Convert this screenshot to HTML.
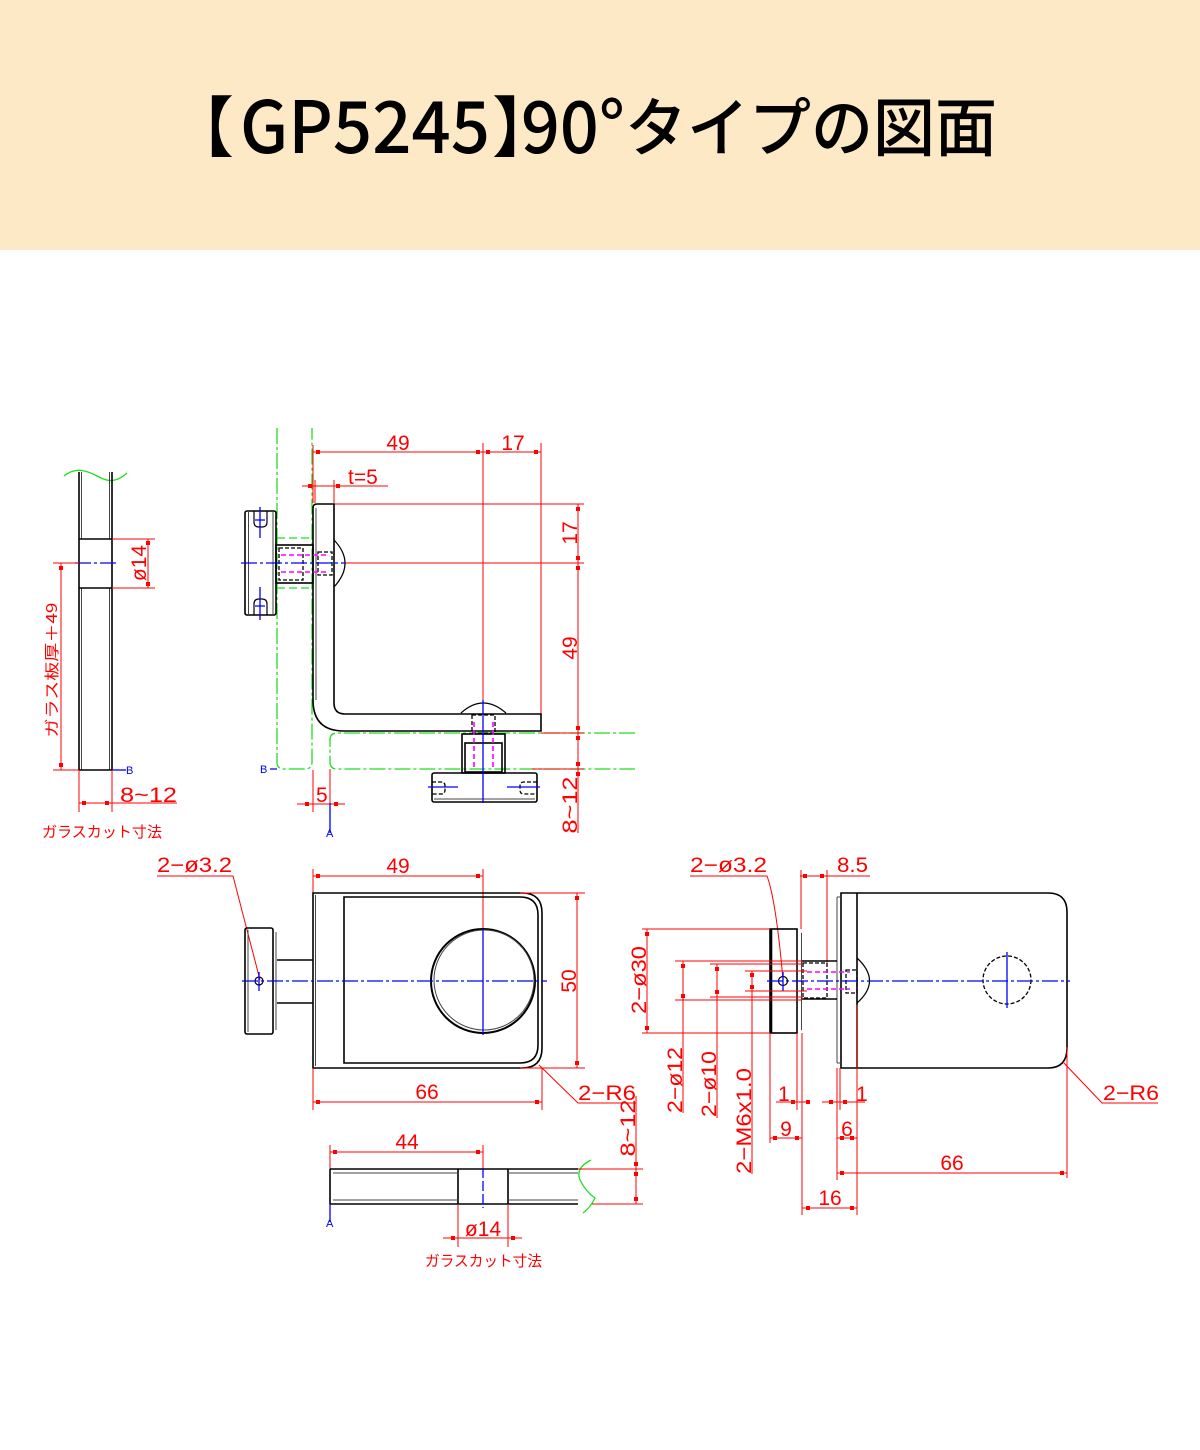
<!DOCTYPE html>
<html><head><meta charset="utf-8"><style>
html,body{margin:0;padding:0;background:#fff}
svg{display:block}
.k{stroke:#000;stroke-width:1.6;fill:none}
.k2{stroke:#444;stroke-width:1;fill:none}
.kd{stroke:#000;stroke-width:1.3;fill:none;stroke-dasharray:4 2}
.r{stroke:#f00;stroke-width:1;fill:none}
.b{stroke:#00f;stroke-width:1.3;fill:none;stroke-dasharray:16 3 3 3}
.bs{stroke:#00f;stroke-width:1.3;fill:none}
.g{stroke:#2d2;stroke-width:1.3;fill:none;stroke-dasharray:16 3 3 3}
.m{stroke:#f0f;stroke-width:1.6;fill:none;stroke-dasharray:5 3}
.t{fill:#f00;font-family:"Liberation Sans","Noto Sans CJK JP",sans-serif;font-size:21px}
.tj{fill:#f00;font-family:"Noto Sans CJK JP","Liberation Sans",sans-serif;font-size:15px}
.tb{fill:#00f;font-family:"Liberation Sans",sans-serif;font-size:11px}
.h{font-family:"Noto Sans CJK JP","Liberation Sans",sans-serif;font-weight:500;fill:#000}
</style></head><body>
<svg width="1200" height="1450" viewBox="0 0 1200 1450" xmlns="http://www.w3.org/2000/svg">
<defs><rect id="q" x="-2" y="-2" width="4" height="4" fill="#f00"/></defs>
<rect x="0" y="0" width="1200" height="250" fill="#FEE9C6"/>
<text class="h" x="234" y="151" text-anchor="end" font-size="66">【</text>
<text class="h" x="240" y="153" font-size="72" textLength="250" lengthAdjust="spacingAndGlyphs">GP5245</text>
<text class="h" x="492" y="151" font-size="66">】</text>
<text class="h" x="521" y="153" font-size="72" textLength="104" lengthAdjust="spacingAndGlyphs">90°</text>
<text class="h" x="625" y="151" font-size="64" textLength="372" lengthAdjust="spacingAndGlyphs">タイプの図面</text>

<!-- ===== Left glass section ===== -->
<path class="g" style="stroke-dasharray:none" d="M64,476 C76,466 88,471 99,477 C110,483 118,481 127,473"/>
<path class="k" d="M79,472 V770 M112,472 V770"/>
<path class="k2" d="M81.5,472 V539 M81.5,588 V770 M109.5,472 V539 M109.5,588 V770"/>
<path class="k" d="M79,539 H112 M79,588 H112 M79,770 H112"/>
<path class="b" d="M75,563 H117"/>
<path class="r" d="M112,539 H155 M112,588 H155 M148,539 V588"/>
<use href="#q" x="148" y="543"/><use href="#q" x="148" y="584"/>
<text class="t" transform="translate(146,563) rotate(-90)" text-anchor="middle" font-size="20">ø14</text>
<path class="r" d="M53,563 H79 M53,770 H79 M61,563 V770"/>
<use href="#q" x="61" y="568"/><use href="#q" x="61" y="765"/>
<text class="tj" transform="translate(57,670) rotate(-90)" text-anchor="middle" font-size="17" textLength="135" lengthAdjust="spacingAndGlyphs">ガラス板厚＋49</text>
<path class="bs" d="M112,770 H126"/>
<text class="tb" x="126" y="774">B</text>
<path class="r" d="M79,770 V812 M112,770 V812 M79,803 H177"/>
<use href="#q" x="84" y="803"/><use href="#q" x="107" y="803"/>
<text class="t" x="120" y="802" textLength="57" lengthAdjust="spacingAndGlyphs">8~12</text>
<text class="tj" x="42" y="837" textLength="120" lengthAdjust="spacingAndGlyphs">ガラスカット寸法</text>

<!-- ===== Top side view ===== -->
<path class="g" d="M277,428 V762 Q277,769 284,769 H305 Q312,769 312,762 V428"/>
<path class="g" style="stroke-dasharray:8 4" d="M277,538 H312 M277,588 H312"/>
<path class="g" d="M635,733 H337 Q330,733 330,740 V762 Q330,769 337,769 H635"/>
<path class="r" d="M313,445 V503 M313,452 H541 M483,443 V702 M541,443 V714"/>
<use href="#q" x="318" y="452"/><use href="#q" x="478" y="452"/><use href="#q" x="488" y="452"/><use href="#q" x="536" y="452"/>
<text class="t" x="398" y="450" text-anchor="middle">49</text>
<text class="t" x="513" y="450" text-anchor="middle">17</text>
<path class="r" d="M302,486 H388 M315,480 V503 M334,480 V503"/>
<use href="#q" x="310" y="486"/><use href="#q" x="338" y="486"/>
<text class="t" x="348" y="484">t=5</text>
<path class="r" d="M334,504 H584 M345,563 H584 M578,504 V833 M541,733 H584 M532,769 H584"/>
<use href="#q" x="578" y="509"/><use href="#q" x="578" y="558"/><use href="#q" x="578" y="568"/><use href="#q" x="578" y="728"/><use href="#q" x="578" y="738"/><use href="#q" x="578" y="764"/><use href="#q" x="578" y="774"/>
<text class="t" transform="translate(577,533) rotate(-90)" text-anchor="middle">17</text>
<text class="t" transform="translate(577,648) rotate(-90)" text-anchor="middle">49</text>
<text class="t" transform="translate(577,805) rotate(-90)" text-anchor="middle" textLength="57" lengthAdjust="spacingAndGlyphs">8~12</text>
<path class="k" d="M334,504 H317 Q313,504 313,508 V700 Q313,731 344,731 H541 V714 H345 Q334,714 334,703 Z"/>
<path class="k2" d="M316,508 V700"/>
<rect class="k" x="245" y="511" width="31" height="104" rx="2"/>
<path class="k2" d="M248.5,512 V614 M273,512 V614"/>
<path class="k" style="stroke-width:1.2" d="M254,511 V522 Q254,527 259,527 H262 Q267,527 267,522 V511 M254,615 V604 Q254,599 259,599 H262 Q267,599 267,604 V615"/>
<path class="bs" d="M260,507 V538 M260,587 V620 M255,520 H265 M255,606 H265"/>
<rect class="k" x="276" y="545" width="37" height="38"/>
<rect class="kd" x="279" y="548" width="24" height="32"/>
<rect class="kd" x="318" y="552" width="14" height="23"/>
<path class="m" d="M281,555 H326 M281,572 H326"/>
<path class="k" style="stroke-width:1.2" d="M334,540 Q356,563 334,587"/>
<path class="b" d="M241,563 H345"/>
<path class="k" style="stroke-width:1.2" d="M461,713 Q483,693 506,713"/>
<rect class="kd" x="472" y="715" width="23" height="18"/>
<rect class="k" x="462" y="734" width="43" height="39"/>
<rect class="k" x="465" y="743" width="37" height="29"/>
<path class="m" d="M474,722 V768 M493,722 V768"/>
<rect class="k" x="432" y="773" width="105" height="29" rx="2"/>
<path class="k2" d="M434,799 H535"/>
<path class="kd" d="M432,782 H441 Q445,782 445,786 V790 Q445,794 441,794 H432 M537,782 H524 Q520,782 520,786 V790 Q520,794 524,794 H537"/>
<path class="bs" d="M483,700 V803 M428,787 H458 M507,787 H540"/>
<path class="r" d="M313,770 V812 M330,769 V803 M297,804 H345"/>
<use href="#q" x="307" y="804"/><use href="#q" x="336" y="804"/>
<text class="t" x="316" y="802">5</text>
<path class="bs" d="M330,803 V833 M270,769 H277"/>
<text class="tb" x="326" y="837">A</text>
<text class="tb" x="260" y="773">B</text>

<!-- ===== Bottom-left view ===== -->
<text class="t" x="157" y="872" textLength="75" lengthAdjust="spacingAndGlyphs">2−ø3.2</text>
<path class="r" d="M157,876 H233 L260,980"/>
<path class="r" d="M313,869 V893 M483,869 V930 M313,876 H483"/>
<use href="#q" x="318" y="876"/><use href="#q" x="478" y="876"/>
<text class="t" x="398" y="873" text-anchor="middle">49</text>
<path class="k" d="M313,893 H522 Q542,893 542,913 V1048 Q542,1068 522,1068 H313 Z"/>
<path class="k2" d="M315.5,895 V1066"/>
<path class="k" d="M344,897 H520 Q538,897 538,915 V1045 Q538,1063 520,1063 H344 Z"/>
<circle class="k" cx="483" cy="981" r="52" style="stroke-width:2"/>
<circle class="k2" cx="484" cy="980" r="50"/>
<rect class="k" x="245" y="928" width="28" height="106" rx="2"/>
<path class="k2" d="M248,930 V1032 M276,932 V1030"/>
<path class="k" d="M277,960 H313 M277,1003 H313"/>
<circle class="k" cx="259" cy="981" r="4" style="stroke-width:1.2"/>
<path class="bs" d="M259,972 V991"/>
<path class="b" d="M242,981 H547"/>
<path class="bs" d="M483,930 V1035"/>
<path class="r" d="M313,1068 V1110 M542,1068 V1110 M313,1102 H542"/>
<use href="#q" x="318" y="1102"/><use href="#q" x="537" y="1102"/>
<text class="t" x="427" y="1099" text-anchor="middle">66</text>
<path class="r" d="M520,893 H585 M520,1068 H585 M577,893 V1068"/>
<use href="#q" x="577" y="898"/><use href="#q" x="577" y="1063"/>
<text class="t" transform="translate(576,981) rotate(-90)" text-anchor="middle">50</text>
<path class="r" d="M539,1065 L578,1103 H636"/>
<text class="t" x="578" y="1100" textLength="58" lengthAdjust="spacingAndGlyphs">2−R6</text>

<!-- ===== Bottom glass ===== -->
<path class="r" d="M330,1145 V1169 M483,1145 V1168 M330,1152 H483"/>
<use href="#q" x="335" y="1152"/><use href="#q" x="478" y="1152"/>
<text class="t" x="407" y="1149" text-anchor="middle">44</text>
<path class="k" d="M330,1169 H578 M330,1204 H578 M330,1169 V1204 M458,1169 V1204 M508,1169 V1204"/>
<path class="k2" d="M333,1173 H458 M508,1173 H578 M333,1200 H458 M508,1200 H578"/>
<path class="bs" style="stroke-dasharray:10 3" d="M483,1168 V1208"/>
<path class="bs" d="M330,1204 V1222"/>
<text class="tb" x="326" y="1227">A</text>
<path class="g" style="stroke-dasharray:none" d="M591,1160 Q575,1168 580,1180 Q586,1192 595,1198 Q590,1208 583,1213"/>
<path class="r" d="M578,1169 H643 M592,1204 H643 M636,1096 V1204"/>
<use href="#q" x="636" y="1164"/><use href="#q" x="636" y="1174"/><use href="#q" x="636" y="1199"/>
<text class="t" transform="translate(635,1128) rotate(-90)" text-anchor="middle" textLength="57" lengthAdjust="spacingAndGlyphs">8~12</text>
<path class="r" d="M458,1204 V1247 M508,1204 V1247 M443,1238 H522"/>
<use href="#q" x="453" y="1238"/><use href="#q" x="513" y="1238"/>
<text class="t" x="483" y="1236" text-anchor="middle">ø14</text>
<text class="tj" x="425" y="1266" textLength="117" lengthAdjust="spacingAndGlyphs">ガラスカット寸法</text>

<!-- ===== Right view ===== -->
<text class="t" x="690" y="872" textLength="77" lengthAdjust="spacingAndGlyphs">2−ø3.2</text>
<path class="r" d="M690,876 H767 Q776,900 783,980"/>
<text class="t" x="837" y="872" textLength="31" lengthAdjust="spacingAndGlyphs">8.5</text>
<path class="r" d="M800,876 H870 M801,870 V929 M827,870 V966"/>
<use href="#q" x="805" y="876"/><use href="#q" x="822" y="876"/>
<path class="k" d="M841,893 H1048 Q1067,893 1067,912 V1048 Q1067,1068 1048,1068 H841 Z"/>
<path class="k" d="M857,893 V1068"/>
<path class="k2" d="M837,897 V1063 M837,897 H841 M837,1063 H841"/>
<circle class="kd" cx="1007" cy="980" r="24"/>
<path class="bs" d="M1007,952 V1008"/>
<rect class="k" x="770" y="929" width="27" height="104"/>
<path class="k" style="stroke-width:2.6" d="M771,929 V1033"/>
<path class="k2" d="M801.5,933 V1030"/>
<path class="k" d="M802,961 H837 M802,999 H837"/>
<rect class="kd" x="803" y="963" width="24" height="35"/>
<rect class="kd" x="846" y="970" width="11" height="23"/>
<path class="m" d="M807,972 H850 M807,989 H850"/>
<path class="k" style="stroke-width:1.2" d="M857,958 Q882,981 857,1003"/>
<circle class="k" cx="783" cy="981" r="4.5" style="stroke-width:1.2"/>
<path class="bs" d="M783,972 V991"/>
<path class="b" d="M767,981 H1070"/>
<path class="r" d="M642,929 H770 M642,1033 H770 M647,929 V1033"/>
<use href="#q" x="647" y="934"/><use href="#q" x="647" y="1028"/>
<text class="t" transform="translate(646,980) rotate(-90)" text-anchor="middle" textLength="68" lengthAdjust="spacingAndGlyphs">2−ø30</text>
<path class="r" d="M675,961 H802 M675,1000 H802 M683,961 V1113"/>
<use href="#q" x="683" y="966"/><use href="#q" x="683" y="996"/>
<text class="t" transform="translate(682,1080) rotate(-90)" text-anchor="middle" textLength="66" lengthAdjust="spacingAndGlyphs">2−ø12</text>
<path class="r" d="M710,964 H803 M710,997 H803 M717,964 V1118"/>
<use href="#q" x="717" y="969"/><use href="#q" x="717" y="992"/>
<text class="t" transform="translate(716,1084) rotate(-90)" text-anchor="middle" textLength="66" lengthAdjust="spacingAndGlyphs">2−ø10</text>
<path class="r" d="M745,971 H807 M745,991 H807 M752,971 V1174"/>
<use href="#q" x="752" y="975"/><use href="#q" x="752" y="987"/>
<text class="t" transform="translate(751,1121) rotate(-90)" text-anchor="middle" textLength="106" lengthAdjust="spacingAndGlyphs">2−M6x1.0</text>
<path class="r" d="M770,1033 V1143 M797,1033 V1110 M802,1033 V1215 M837,1068 V1180 M840,1068 V1110 M857,1005 V1215 M1067,1047 V1178"/>
<path class="r" d="M776,1102 H807 M822,1102 H865"/>
<use href="#q" x="793" y="1102"/><use href="#q" x="808" y="1102"/><use href="#q" x="831" y="1102"/><use href="#q" x="845" y="1102"/>
<text class="t" x="778" y="1101">1</text>
<text class="t" x="856" y="1101">1</text>
<path class="r" d="M770,1138 H802 M837,1138 H857"/>
<use href="#q" x="775" y="1138"/><use href="#q" x="797" y="1138"/><use href="#q" x="842" y="1138"/><use href="#q" x="852" y="1138"/>
<text class="t" x="786" y="1136" text-anchor="middle">9</text>
<text class="t" x="847" y="1136" text-anchor="middle">6</text>
<path class="r" d="M837,1173 H1067"/>
<use href="#q" x="842" y="1173"/><use href="#q" x="1062" y="1173"/>
<text class="t" x="952" y="1170" text-anchor="middle">66</text>
<path class="r" d="M802,1208 H857"/>
<use href="#q" x="808" y="1208"/><use href="#q" x="852" y="1208"/>
<text class="t" x="830" y="1205" text-anchor="middle">16</text>
<path class="r" d="M1063,1062 L1102,1103 H1158"/>
<text class="t" x="1103" y="1100" textLength="56" lengthAdjust="spacingAndGlyphs">2−R6</text>
</svg>
</body></html>
